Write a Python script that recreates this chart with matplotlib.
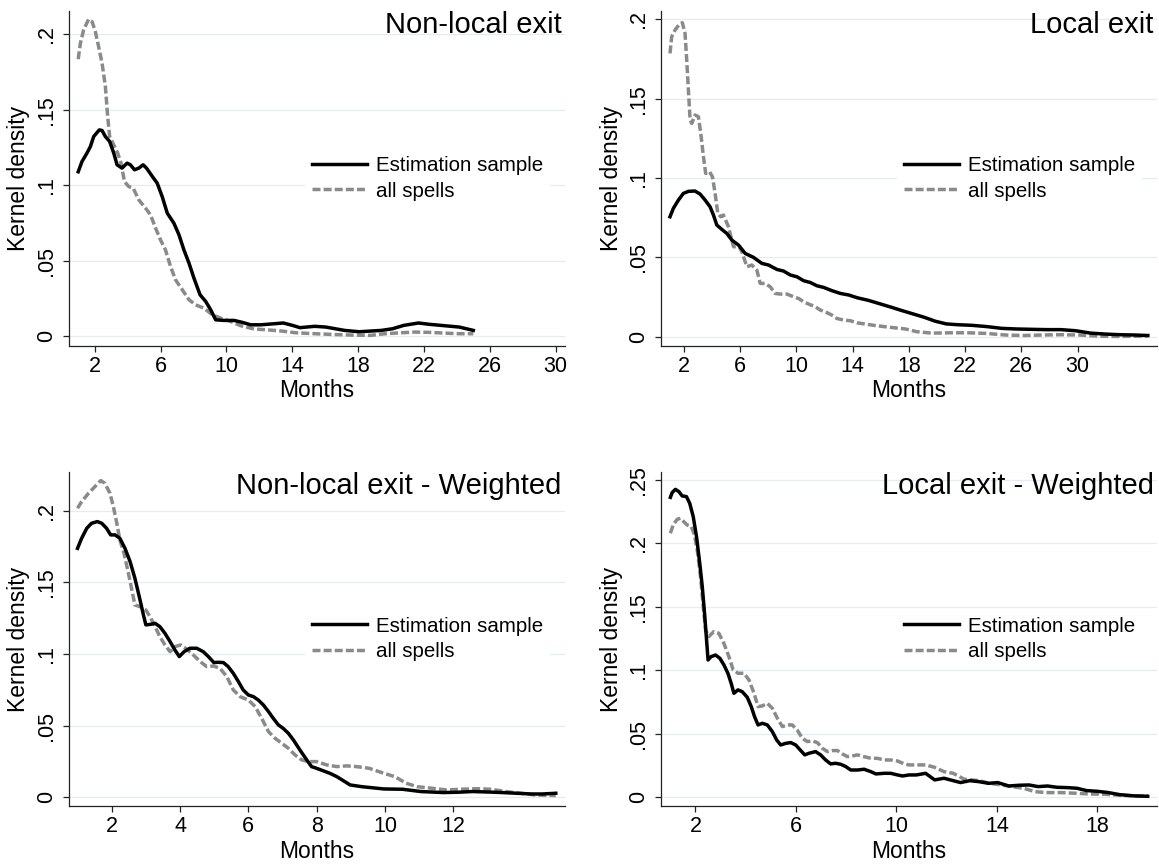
import matplotlib
matplotlib.use("Agg")
import matplotlib.pyplot as plt
from matplotlib.lines import Line2D

plt.rcParams['font.family'] = ['Liberation Sans', 'DejaVu Sans']

# ---------------- data ----------------
# Panel 1: Non-local exit
p1_est_x = [1.0, 1.23, 1.53, 1.74, 1.94, 2.28, 2.45, 2.65, 2.91, 3.16, 3.36, 3.66, 3.97, 4.17, 4.42, 4.68,
            4.94, 5.15, 5.43, 5.8, 6.1, 6.41, 6.81, 7.12, 7.42, 7.73, 8.03, 8.4, 8.74, 9.05, 9.35, 9.86,
            10.47, 10.97, 11.48, 12.09, 12.9, 13.46, 14.02, 14.47, 15.37, 16.04, 17.17, 18.07, 19.42,
            20.1, 20.77, 21.67, 22.35, 23.25, 24.15, 25.0]
p1_est_y = [0.109, 0.1158, 0.1213, 0.1257, 0.1323, 0.1367, 0.1363, 0.1323, 0.129, 0.1213, 0.1136, 0.1114,
            0.1147, 0.1136, 0.1103, 0.1114, 0.1136, 0.1114, 0.107, 0.1014, 0.0926, 0.0816, 0.075, 0.0673,
            0.0573, 0.0485, 0.0386, 0.0276, 0.0232, 0.0176, 0.011, 0.0106, 0.0106, 0.0093, 0.0077, 0.0077,
            0.0084, 0.0089, 0.0073, 0.0058, 0.0067, 0.0062, 0.004, 0.0031, 0.004, 0.0051, 0.0073, 0.0089,
            0.008, 0.0071, 0.0062, 0.004]
p1_all_x = [1.0, 1.13, 1.33, 1.63, 1.84, 2.04, 2.24, 2.45, 2.65, 2.79, 2.91, 3.16, 3.4, 3.6, 3.81, 4.07,
            4.34, 4.68, 5.09, 5.39, 5.7, 6.0, 6.3, 6.61, 6.91, 7.32, 7.73, 8.13, 8.64, 9.15, 9.65, 10.26,
            10.87, 11.69, 12.44, 13.34, 14.24, 15.37, 16.5, 17.6, 18.74, 19.65, 20.55, 21.45, 22.35, 23.25,
            24.15, 25.0]
p1_all_y = [0.1835, 0.194, 0.2029, 0.2099, 0.2084, 0.2018, 0.1918, 0.1808, 0.1654, 0.1455, 0.1323, 0.1268,
            0.1213, 0.1147, 0.1025, 0.0992, 0.0981, 0.0904, 0.0849, 0.0805, 0.0717, 0.0639, 0.0573, 0.0463,
            0.0375, 0.0309, 0.0243, 0.0209, 0.0187, 0.0143, 0.0121, 0.0099, 0.0071, 0.0049, 0.0044, 0.0036,
            0.0024, 0.0018, 0.0013, 0.0009, 0.0007, 0.0018, 0.0024, 0.0029, 0.0027, 0.0022, 0.0018, 0.0018]

# Panel 2: Local exit
p2_est_x = [1.0, 1.24, 1.6, 1.95, 2.31, 2.78, 3.14, 3.5, 3.85, 4.09, 4.33, 4.69, 5.04, 5.4, 5.87, 6.35,
            6.94, 7.54, 8.01, 8.61, 9.08, 9.56, 10.03, 10.51, 10.98, 11.46, 11.93, 12.53, 13.12, 13.72,
            14.31, 15.13, 15.92, 16.71, 17.5, 18.29, 19.08, 19.87, 20.66, 21.45, 22.5, 23.55, 24.6, 25.66,
            26.7, 27.76, 28.8, 29.87, 30.92, 31.97, 33.0, 34.08, 35.0]
p2_est_y = [0.0756, 0.0809, 0.0861, 0.0903, 0.0916, 0.0918, 0.0899, 0.0861, 0.0819, 0.0767, 0.0704, 0.0676,
            0.0651, 0.0609, 0.0578, 0.0525, 0.05, 0.0462, 0.0452, 0.0424, 0.0414, 0.0389, 0.0378, 0.0353,
            0.0342, 0.0321, 0.0311, 0.029, 0.0273, 0.0263, 0.0246, 0.0229, 0.0208, 0.0187, 0.0165, 0.0144,
            0.0123, 0.0098, 0.0081, 0.0076, 0.0072, 0.0064, 0.0053, 0.0049, 0.0047, 0.0045, 0.0045, 0.0038,
            0.0023, 0.0017, 0.0013, 0.0011, 0.0008]
p2_all_x = [1.0, 1.12, 1.36, 1.71, 1.88, 2.07, 2.19, 2.31, 2.43, 2.55, 2.78, 3.02, 3.19, 3.38, 3.54, 3.81,
            4.02, 4.21, 4.4, 4.61, 4.8, 5.16, 5.52, 5.92, 6.11, 6.47, 6.82, 7.18, 7.42, 7.77, 8.13, 8.48,
            8.84, 9.32, 9.79, 10.15, 10.51, 10.86, 11.34, 11.7, 12.05, 12.53, 12.88, 13.36, 13.83, 14.31,
            14.9, 15.66, 16.71, 17.76, 18.55, 19.6, 20.92, 22.24, 23.55, 24.87, 26.18, 27.5, 28.82, 30.13,
            31.45, 32.76, 35.0]
p2_all_y = [0.1785, 0.189, 0.1932, 0.1974, 0.1978, 0.1911, 0.1743, 0.1554, 0.1365, 0.1344, 0.1397, 0.1386,
            0.1281, 0.1134, 0.1029, 0.104, 0.1008, 0.0903, 0.0777, 0.0756, 0.0767, 0.0693, 0.0567, 0.0568,
            0.0536, 0.0441, 0.0452, 0.042, 0.0336, 0.0336, 0.0315, 0.0273, 0.0269, 0.0269, 0.0252, 0.0241,
            0.022, 0.0206, 0.0189, 0.0168, 0.0157, 0.0136, 0.0115, 0.0105, 0.0101, 0.0088, 0.008, 0.007,
            0.0059, 0.0049, 0.0032, 0.0023, 0.0025, 0.0025, 0.0021, 0.0011, 0.0008, 0.0011, 0.0013, 0.0011,
            0.0004, 0.0002, 0.0004]

# Panel 3: Non-local exit - Weighted
p3_est_x = [1.0, 1.12, 1.27, 1.41, 1.58, 1.71, 1.85, 1.97, 2.1, 2.24, 2.39, 2.54, 2.68, 2.83, 2.93, 3.0,
            3.14, 3.27, 3.41, 3.56, 3.71, 3.85, 3.98, 4.12, 4.29, 4.49, 4.68, 4.83, 4.99, 5.12, 5.27, 5.41,
            5.56, 5.71, 5.85, 6.0, 6.15, 6.29, 6.44, 6.59, 6.73, 6.88, 7.02, 7.17, 7.32, 7.51, 7.71, 7.85,
            8.0, 8.2, 8.39, 8.59, 8.78, 8.98, 9.32, 9.97, 10.51, 11.05, 11.7, 12.13, 12.56, 12.99, 13.43,
            13.86, 14.29, 14.61, 15.0]
p3_est_y = [0.1737, 0.1807, 0.1877, 0.1912, 0.1924, 0.1912, 0.1877, 0.1831, 0.1831, 0.1807, 0.1737, 0.1644,
            0.1528, 0.1377, 0.1272, 0.1203, 0.1207, 0.1214, 0.1191, 0.1144, 0.1086, 0.1028, 0.0982, 0.1016,
            0.104, 0.104, 0.1016, 0.0982, 0.094, 0.0942, 0.094, 0.0912, 0.0865, 0.0807, 0.0749, 0.0714,
            0.0702, 0.0679, 0.0644, 0.0598, 0.0551, 0.0505, 0.0481, 0.0447, 0.04, 0.033, 0.0261, 0.0214,
            0.0202, 0.0184, 0.0167, 0.0144, 0.0116, 0.0086, 0.0074, 0.0058, 0.0056, 0.004, 0.0033, 0.0035,
            0.004, 0.0037, 0.0033, 0.0028, 0.0023, 0.0023, 0.0028]
p3_all_x = [1.0, 1.12, 1.32, 1.51, 1.68, 1.8, 1.95, 2.05, 2.15, 2.24, 2.36, 2.49, 2.59, 2.68, 2.83, 3.0,
            3.12, 3.27, 3.41, 3.56, 3.71, 3.85, 4.02, 4.2, 4.39, 4.59, 4.78, 4.98, 5.17, 5.37, 5.56, 5.76,
            6.0, 6.2, 6.39, 6.59, 6.78, 6.98, 7.17, 7.37, 7.56, 7.76, 8.0, 8.29, 8.59, 8.88, 9.17, 9.54,
            9.97, 10.29, 10.62, 10.94, 11.37, 11.81, 12.24, 12.67, 13.1, 13.54, 13.97, 14.4, 15.0]
p3_all_y = [0.2017, 0.2063, 0.2121, 0.2168, 0.221, 0.2191, 0.2121, 0.2028, 0.1912, 0.1796, 0.1703, 0.1563,
            0.1447, 0.1342, 0.133, 0.1307, 0.1261, 0.1191, 0.1121, 0.1063, 0.1016, 0.1051, 0.1063, 0.1033,
            0.0993, 0.0947, 0.0912, 0.0916, 0.09, 0.0842, 0.0749, 0.0702, 0.0679, 0.0633, 0.0551, 0.0458,
            0.0412, 0.0377, 0.0342, 0.0295, 0.0261, 0.0249, 0.0249, 0.0226, 0.0214, 0.0219, 0.0214, 0.0202,
            0.0167, 0.0144, 0.0098, 0.0074, 0.0063, 0.0051, 0.0056, 0.006, 0.0056, 0.004, 0.0028, 0.0016,
            0.0012]

# Panel 4: Local exit - Weighted
p4_est_x = [1.0, 1.07, 1.2, 1.34, 1.47, 1.64, 1.77, 1.91, 2.04, 2.17, 2.27, 2.36, 2.44, 2.5, 2.62, 2.8,
            2.97, 3.13, 3.29, 3.42, 3.53, 3.69, 3.86, 4.06, 4.22, 4.35, 4.49, 4.66, 4.86, 5.06, 5.23, 5.39,
            5.59, 5.79, 5.99, 6.19, 6.35, 6.52, 6.78, 6.98, 7.18, 7.38, 7.58, 7.78, 7.98, 8.18, 8.45, 8.71,
            8.98, 9.18, 9.51, 9.77, 10.04, 10.24, 10.5, 10.79, 11.16, 11.52, 11.89, 12.26, 12.55, 12.92,
            13.29, 13.66, 14.03, 14.47, 14.91, 15.28, 15.64, 16.01, 16.38, 16.82, 17.19, 17.56, 18.0,
            18.44, 18.88, 19.47, 20.0]
p4_est_y = [0.2363, 0.24, 0.2426, 0.2408, 0.2374, 0.2369, 0.2316, 0.2211, 0.2054, 0.1843, 0.166, 0.145,
            0.124, 0.1082, 0.1108, 0.1121, 0.1095, 0.1043, 0.0977, 0.0898, 0.0819, 0.0846, 0.0832, 0.0788,
            0.0714, 0.0636, 0.057, 0.0583, 0.057, 0.0517, 0.0452, 0.0412, 0.0425, 0.0431, 0.0412, 0.0368,
            0.0334, 0.0347, 0.036, 0.0334, 0.0294, 0.0263, 0.0268, 0.026, 0.0242, 0.0215, 0.0215, 0.0221,
            0.0202, 0.0184, 0.0189, 0.0189, 0.0176, 0.0168, 0.0176, 0.0176, 0.0189, 0.0137, 0.015, 0.0131,
            0.0116, 0.0131, 0.0123, 0.011, 0.0116, 0.0089, 0.0095, 0.0097, 0.0084, 0.0089, 0.0079, 0.0076,
            0.0071, 0.0053, 0.0047, 0.0037, 0.0021, 0.0011, 0.0008]
p4_all_x = [1.0, 1.11, 1.27, 1.4, 1.53, 1.67, 1.83, 1.96, 2.09, 2.2, 2.31, 2.4, 2.53, 2.73, 2.93, 3.13,
            3.33, 3.5, 3.69, 3.93, 4.13, 4.33, 4.49, 4.66, 4.86, 5.06, 5.26, 5.46, 5.65, 5.85, 6.05, 6.25,
            6.45, 6.65, 6.85, 7.05, 7.25, 7.45, 7.65, 7.85, 8.05, 8.25, 8.45, 8.71, 8.98, 9.24, 9.51, 9.77,
            10.04, 10.31, 10.5, 11.16, 11.52, 11.89, 12.26, 12.7, 13.29, 13.73, 14.17, 14.61, 15.06, 15.5,
            15.94, 16.53, 17.12, 17.7, 18.29, 18.88, 19.47, 20.0]
p4_all_y = [0.208, 0.2145, 0.219, 0.2198, 0.2172, 0.2145, 0.2132, 0.2067, 0.1922, 0.1738, 0.1502, 0.1318,
            0.1266, 0.1305, 0.1292, 0.1213, 0.1108, 0.1003, 0.0977, 0.0977, 0.0924, 0.0819, 0.0714, 0.072,
            0.074, 0.0701, 0.0622, 0.0557, 0.057, 0.057, 0.053, 0.0465, 0.0439, 0.0444, 0.0431, 0.0386,
            0.036, 0.0368, 0.0368, 0.0341, 0.032, 0.0326, 0.0334, 0.032, 0.0307, 0.0307, 0.0294, 0.0294,
            0.0286, 0.0263, 0.0255, 0.0255, 0.0236, 0.0202, 0.0189, 0.0142, 0.0131, 0.011, 0.0097, 0.0084,
            0.0071, 0.0045, 0.0037, 0.0037, 0.0032, 0.0026, 0.0024, 0.0016, 0.0011, 0.0011]

titles = ["Non-local exit", "Local exit", "Non-local exit - Weighted", "Local exit - Weighted"]
legend_labels = ["Estimation sample", "all spells"]
x_label = "Months"
y_label = "Kernel density"

p1_xticks = [2, 6, 10, 14, 18, 22, 26, 30]
p2_xticks = [2, 6, 10, 14, 18, 22, 26, 30]
p3_xticks = [2, 4, 6, 8, 10, 12]
p4_xticks = [2, 6, 10, 14, 18]
p1_yticks = [0, 0.05, 0.1, 0.15, 0.2]
p2_yticks = [0, 0.05, 0.1, 0.15, 0.2]
p3_yticks = [0, 0.05, 0.1, 0.15, 0.2]
p4_yticks = [0, 0.05, 0.1, 0.15, 0.2, 0.25]
p1_yticklabels = ["0", ".05", ".1", ".15", ".2"]
p2_yticklabels = ["0", ".05", ".1", ".15", ".2"]
p3_yticklabels = ["0", ".05", ".1", ".15", ".2"]
p4_yticklabels = ["0", ".05", ".1", ".15", ".2", ".25"]

# ---------------- styling ----------------
W, H = 1159, 864
fig = plt.figure(figsize=(W / 100, H / 100), dpi=100)
fig.patch.set_facecolor("white")

GRID = "#e3ecee"
GRAY = "#8a8a8a"
LW = 2.5
DASH = (0, (2.3, 0.9))

def px_axes(left, right, top, bottom):
    return [left / W, (H - bottom) / H, (right - left) / W, (bottom - top) / H]

panels = [
    dict(rect=px_axes(68.5, 565, 11, 345.5), xlim=(0.41, 30.57), ylim=(-0.006, 0.2154),
         ex=p1_est_x, ey=p1_est_y, ax_=p1_all_x, ay=p1_all_y, xt=p1_xticks, yt=p1_yticks,
         ytl=p1_yticklabels, title=titles[0]),
    dict(rect=px_axes(661, 1157, 11, 345.5), xlim=(0.36, 35.65), ylim=(-0.0055, 0.2052),
         ex=p2_est_x, ey=p2_est_y, ax_=p2_all_x, ay=p2_all_y, xt=p2_xticks, yt=p2_yticks,
         ytl=p2_yticklabels, title=titles[1]),
    dict(rect=px_axes(68.5, 565, 471.7, 806.3), xlim=(0.736, 15.27), ylim=(-0.0063, 0.2272),
         ex=p3_est_x, ey=p3_est_y, ax_=p3_all_x, ay=p3_all_y, xt=p3_xticks, yt=p3_yticks,
         ytl=p3_yticklabels, title=titles[2]),
    dict(rect=px_axes(661, 1157, 471.7, 806.3), xlim=(0.627, 20.37), ylim=(-0.0071, 0.2565),
         ex=p4_est_x, ey=p4_est_y, ax_=p4_all_x, ay=p4_all_y, xt=p4_xticks, yt=p4_yticks,
         ytl=p4_yticklabels, title=titles[3]),
]

for p in panels:
    ax = fig.add_axes(p["rect"])
    ax.set_xlim(*p["xlim"])
    ax.set_ylim(*p["ylim"])
    for yv in p["yt"]:
        ax.axhline(yv, color=GRID, lw=0.9, zorder=0)
    ax.plot(p["ex"], p["ey"], color="black", lw=LW, zorder=3)
    ax.plot(p["ax_"], p["ay"], color=GRAY, lw=LW, linestyle=DASH, zorder=2)

    ax.set_xticks(p["xt"])
    ax.set_xticklabels([str(t) for t in p["xt"]])
    ax.set_yticks(p["yt"])
    ax.set_yticklabels(p["ytl"], rotation=90, va="center")
    ax.tick_params(axis="both", labelsize=15.5, length=4.3, width=0.9, color="#222222")
    ax.tick_params(axis="x", pad=3)
    ax.tick_params(axis="y", pad=4)
    for s in ["top", "right"]:
        ax.spines[s].set_visible(False)
    for s in ["left", "bottom"]:
        ax.spines[s].set_linewidth(0.9)
        ax.spines[s].set_color("#222222")
    ax.set_xlabel(x_label, fontsize=16.5, labelpad=2)
    ax.set_ylabel(y_label, fontsize=16.5, labelpad=4)

    ax.text(0.993, 0.934, p["title"], transform=ax.transAxes, ha="right", va="baseline",
            fontsize=21, zorder=5)

    handles = [Line2D([], [], color="black", lw=LW),
               Line2D([], [], color=GRAY, lw=LW, linestyle=DASH)]
    leg = ax.legend(handles, legend_labels, loc="center left", bbox_to_anchor=(0.476, 0.5),
                    frameon=True, facecolor="white", edgecolor="none", fancybox=False,
                    framealpha=1, fontsize=14.8, handlelength=2.67, handletextpad=0.45,
                    labelspacing=0.33, borderpad=0.33, borderaxespad=0)
    leg.get_frame().set_linewidth(0)

fig.savefig("out.png", dpi=100, facecolor="white")
